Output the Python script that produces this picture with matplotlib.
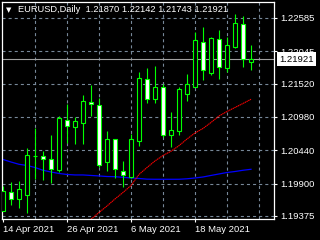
import numpy as np
import matplotlib.pyplot as plt
from matplotlib import rcParams

rcParams['font.family'] = ['Liberation Sans', 'DejaVu Sans']
rcParams['lines.scale_dashes'] = False

# daily bars EURUSD
dates = ['14 Apr 2021', '15 Apr 2021', '16 Apr 2021', '19 Apr 2021', '20 Apr 2021',
         '21 Apr 2021', '22 Apr 2021', '23 Apr 2021', '26 Apr 2021', '27 Apr 2021',
         '28 Apr 2021', '29 Apr 2021', '30 Apr 2021', '3 May 2021', '4 May 2021',
         '5 May 2021', '6 May 2021', '7 May 2021', '10 May 2021', '11 May 2021',
         '12 May 2021', '13 May 2021', '14 May 2021', '17 May 2021', '18 May 2021',
         '19 May 2021', '20 May 2021', '21 May 2021', '24 May 2021', '25 May 2021',
         '26 May 2021', '27 May 2021']
opens = [1.19461, 1.19759, 1.19646, 1.19711, 1.20348, 1.20343, 1.20294, 1.20121,
         1.20931, 1.20823, 1.20888, 1.21223, 1.21175, 1.20246, 1.20619, 1.20100,
         1.20012, 1.20596, 1.21591, 1.21267, 1.21461, 1.20683, 1.20758, 1.21353,
         1.21471, 1.22191, 1.21688, 1.22240, 1.21770, 1.22120, 1.22483, 1.21870]
highs = [1.19861, 1.19926, 1.19947, 1.20473, 1.20802, 1.20424, 1.20688, 1.21001,
         1.21186, 1.20985, 1.21342, 1.21499, 1.21283, 1.20758, 1.20631, 1.20267,
         1.20704, 1.21705, 1.21770, 1.21807, 1.21510, 1.21066, 1.21471, 1.21677,
         1.22358, 1.22439, 1.22282, 1.22390, 1.22282, 1.22645, 1.22617, 1.22142]
lows = [1.19448, 1.19548, 1.19500, 1.19419, 1.19975, 1.19959, 1.19915, 1.20093,
        1.20563, 1.20542, 1.20542, 1.21001, 1.20165, 1.20109, 1.19986, 1.19850,
        1.19986, 1.20510, 1.21202, 1.21212, 1.20651, 1.20498, 1.20688, 1.21244,
        1.21458, 1.21580, 1.21661, 1.21591, 1.21705, 1.22094, 1.21795, 1.21743]
closes = [1.19780, 1.19646, 1.19808, 1.20359, 1.20343, 1.20304, 1.20142, 1.20959,
          1.20839, 1.20915, 1.21239, 1.21186, 1.20197, 1.20619, 1.20132, 1.20045,
          1.20619, 1.21607, 1.21267, 1.21461, 1.20683, 1.20769, 1.21434, 1.21510,
          1.22228, 1.21737, 1.22256, 1.21786, 1.22142, 1.22499, 1.21915, 1.21921]

# moving averages
ma_blue = [1.20291, 1.20250, 1.20213, 1.20194, 1.20161, 1.20116, 1.20088, 1.20064,
           1.20048, 1.20040, 1.20040, 1.20032, 1.20024, 1.20015, 1.20012, 1.20002,
           1.19991, 1.19983, 1.19972, 1.19970, 1.19970, 1.19970, 1.19970, 1.19978,
           1.19991, 1.20007, 1.20032, 1.20056, 1.20080, 1.20096, 1.20116, 1.20132]
ma_red = [1.19322, 1.19432, 1.19537, 1.19651, 1.19756, 1.19869, 1.20048, 1.20161,
          1.20267, 1.20356, 1.20424, 1.20515, 1.20623, 1.20721, 1.20794, 1.20891,
          1.20996, 1.21069, 1.21134, 1.21199, 1.21267]
red_start = 11

price_ticks = [1.22585, 1.22045, 1.21520, 1.20980, 1.20440, 1.19900, 1.19375]
last_price = 1.21921
header = 'EURUSD,Daily  1.21870 1.22142 1.21743 1.21921'

grid_col = '#778899'
fg = 'white'
lime = '#00ff00'

fig = plt.figure(figsize=(3.2, 2.4), dpi=100, facecolor='black')
ax = fig.add_axes([2/320, 21/240, 272/320, 217/240], facecolor='black')

x = np.arange(len(dates))

# grid
for gx in range(4, 36, 4):
    ax.axvline(gx, color=grid_col, lw=0.8, ls=(0, (2.2, 2.2)), zorder=1)
for gy in price_ticks:
    ax.axhline(gy, color=grid_col, lw=0.8, ls=(0, (2.2, 2.2)), zorder=1)

# bid line
ax.axhline(last_price, color='#a0a0a0', lw=0.8, zorder=1.5)

# moving averages
ax.plot(x, ma_blue, color='#0000ff', lw=0.9, zorder=2)
ax.plot(x[red_start:], ma_red, color='#ff0000', lw=0.8, ls=(0, (1, 0.4)), zorder=2)

# candles
o = np.array(opens)
c = np.array(closes)
ax.vlines(x, lows, highs, color=lime, lw=0.8, zorder=3)
body_col = ['black' if cc >= oo else 'white' for oo, cc in zip(o, c)]
ax.bar(x, np.abs(c - o), bottom=np.minimum(o, c), width=0.6, color=body_col,
       edgecolor=lime, linewidth=0.8, zorder=4)

ax.set_xlim(-0.125, 33.875)
ax.set_ylim(1.19326, 1.22844)

for s in ax.spines.values():
    s.set_color(fg)
    s.set_linewidth(0.9)

ax.yaxis.tick_right()
ax.set_yticks(price_ticks)
ax.set_yticklabels(['%.5f' % p for p in price_ticks])
ax.set_xticks(x[::8])
ax.set_xticklabels(dates[::8])
ax.tick_params(axis='y', colors=fg, length=2.5, width=0.8, pad=2, labelsize=6.8)
ax.tick_params(axis='x', colors=fg, length=2.5, width=0.8, pad=1.5, labelsize=6.8)
for lbl in ax.get_xticklabels():
    lbl.set_ha('left')

# header and price box
fig.text(6/320, 1 - 10.5/240, '\u25bc', color=fg, fontsize=5, va='center',
         family='DejaVu Sans')
fig.text(18/320, 1 - 10/240, header, color=fg, fontsize=6.7, va='center')
fig.text(279/320, 1 - 59/240, '%.5f' % last_price, color='black', fontsize=6.8,
         va='center', bbox=dict(boxstyle='square,pad=0.25', fc='white', ec='none'))

fig.savefig('out.png', dpi=100, facecolor='black')
